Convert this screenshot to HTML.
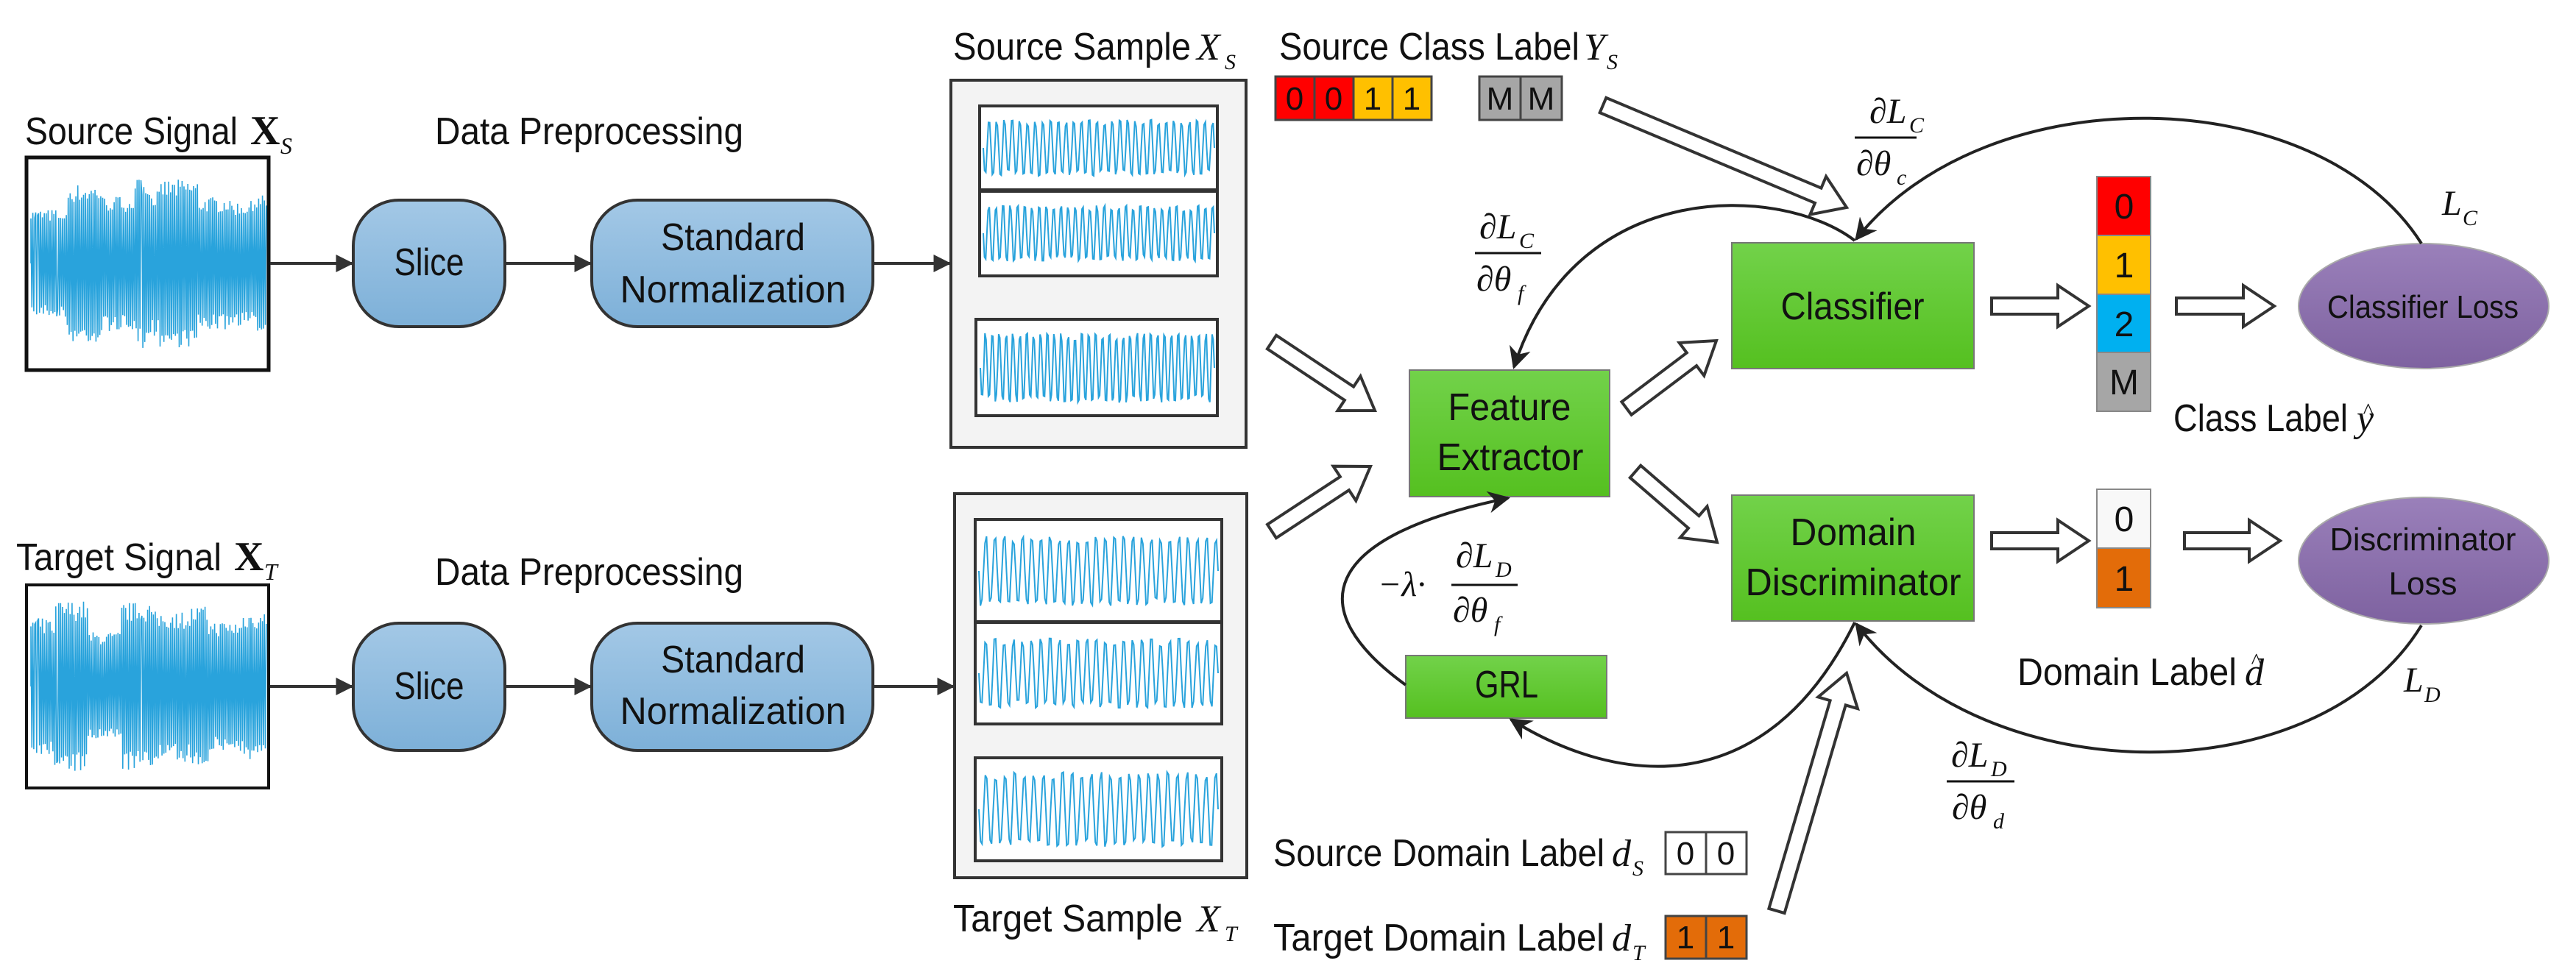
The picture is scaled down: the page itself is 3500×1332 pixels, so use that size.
<!DOCTYPE html>
<html><head><meta charset="utf-8"><style>
html,body{margin:0;padding:0;background:#fff;}
svg{display:block;}
text{font-family:"Liberation Sans",sans-serif;fill:#111;}
.m, .m text, text.m{font-family:"Liberation Serif",serif;font-style:italic;}
</style></head><body>
<svg id="s" width="3500" height="1332" viewBox="0 0 3500 1332" xmlns="http://www.w3.org/2000/svg">
<defs>
<linearGradient id="gb" x1="0" y1="0" x2="0" y2="1"><stop offset="0" stop-color="#a3c8e6"/><stop offset="1" stop-color="#7db0d8"/></linearGradient>
<linearGradient id="gg" x1="0" y1="0" x2="0" y2="1"><stop offset="0" stop-color="#72d24a"/><stop offset="1" stop-color="#55c020"/></linearGradient>
<linearGradient id="gp" x1="0" y1="0" x2="0" y2="1"><stop offset="0" stop-color="#9a80ba"/><stop offset="1" stop-color="#7e62a0"/></linearGradient>
<marker id="ah" viewBox="0 0 10 10" refX="9" refY="5" markerWidth="6" markerHeight="6" markerUnits="strokeWidth" orient="auto"><path d="M0,0 L10,5 L0,10 z" fill="#333"/></marker>
<marker id="ak" viewBox="0 0 10 10" refX="9" refY="5" markerWidth="30" markerHeight="30" markerUnits="userSpaceOnUse" orient="auto"><path d="M0,0 L10,5 L0,10 L3,5 z" fill="#222"/></marker>
</defs>
<g id="waves"></g>

<rect x="36" y="214" width="329" height="289" fill="none" stroke="#111" stroke-width="5"/>
<rect x="36" y="795" width="329" height="276" fill="none" stroke="#111" stroke-width="4"/>
<text x="34" y="196" font-size="52" textLength="289" lengthAdjust="spacingAndGlyphs">Source Signal</text>
<text x="340" y="196" font-size="56" font-family="Liberation Serif" font-weight="bold" style="font-family:'Liberation Serif',serif">X</text>
<text x="381" y="209" font-size="32" class="m">S</text>
<text x="22" y="775" font-size="52" textLength="279" lengthAdjust="spacingAndGlyphs">Target Signal</text>
<text x="318" y="775" font-size="56" font-weight="bold" style="font-family:'Liberation Serif',serif">X</text>
<text x="359" y="788" font-size="32" class="m">T</text>

<text x="591" y="196" font-size="52" textLength="419" lengthAdjust="spacingAndGlyphs">Data Preprocessing</text>
<text x="591" y="795" font-size="52" textLength="419" lengthAdjust="spacingAndGlyphs">Data Preprocessing</text>

<rect x="480" y="272" width="206" height="172" rx="62" fill="url(#gb)" stroke="#333" stroke-width="4"/>
<rect x="804" y="272" width="382" height="172" rx="62" fill="url(#gb)" stroke="#333" stroke-width="4"/>
<rect x="480" y="847" width="206" height="173" rx="62" fill="url(#gb)" stroke="#333" stroke-width="4"/>
<rect x="804" y="847" width="382" height="173" rx="62" fill="url(#gb)" stroke="#333" stroke-width="4"/>
<text x="583" y="374" font-size="52" text-anchor="middle" textLength="95" lengthAdjust="spacingAndGlyphs">Slice</text>
<text x="996" y="340" font-size="52" text-anchor="middle" textLength="196" lengthAdjust="spacingAndGlyphs">Standard</text>
<text x="996" y="411" font-size="52" text-anchor="middle" textLength="307" lengthAdjust="spacingAndGlyphs">Normalization</text>
<text x="583" y="950" font-size="52" text-anchor="middle" textLength="95" lengthAdjust="spacingAndGlyphs">Slice</text>
<text x="996" y="914" font-size="52" text-anchor="middle" textLength="196" lengthAdjust="spacingAndGlyphs">Standard</text>
<text x="996" y="984" font-size="52" text-anchor="middle" textLength="307" lengthAdjust="spacingAndGlyphs">Normalization</text>

<g stroke="#333" stroke-width="4" marker-end="url(#ah)">
<line x1="367" y1="358" x2="478" y2="358"/>
<line x1="686" y1="358" x2="802" y2="358"/>
<line x1="1186" y1="358" x2="1290" y2="358"/>
<line x1="367" y1="933" x2="478" y2="933"/>
<line x1="686" y1="933" x2="802" y2="933"/>
<line x1="1186" y1="933" x2="1295" y2="933"/>
</g>

<rect x="1292" y="109" width="401" height="499" fill="#f3f3f3" stroke="#333" stroke-width="4"/>
<rect x="1297" y="671" width="397" height="522" fill="#f3f3f3" stroke="#333" stroke-width="4"/>
<g fill="#fff" stroke="#333" stroke-width="4">
<rect x="1331" y="144" width="323" height="114"/>
<rect x="1331" y="260" width="323" height="115"/>
<rect x="1326" y="434" width="328" height="131"/>
<rect x="1325" y="706" width="335" height="139"/>
<rect x="1325" y="846" width="335" height="138"/>
<rect x="1325" y="1030" width="335" height="140"/>
</g>
<g id="waves2"></g>
<text x="1295" y="81" font-size="52" textLength="323" lengthAdjust="spacingAndGlyphs">Source Sample</text>
<text x="1626" y="81" font-size="52" class="m">X</text><text x="1664" y="94" font-size="30" class="m">S</text>
<text x="1295" y="1266" font-size="52" textLength="312" lengthAdjust="spacingAndGlyphs">Target Sample</text>
<text x="1626" y="1266" font-size="52" class="m">X</text><text x="1664" y="1279" font-size="30" class="m">T</text>

<text x="1738" y="81" font-size="52" textLength="408" lengthAdjust="spacingAndGlyphs">Source Class Label</text>
<text x="2152" y="81" font-size="52" class="m">Y</text><text x="2183" y="94" font-size="30" class="m">S</text>
<g stroke="#444" stroke-width="3">
<rect x="1733" y="104" width="53" height="59" fill="#ff0000"/>
<rect x="1786" y="104" width="53" height="59" fill="#ff0000"/>
<rect x="1839" y="104" width="53" height="59" fill="#ffc000"/>
<rect x="1892" y="104" width="53" height="59" fill="#ffc000"/>
<rect x="2010" y="104" width="56" height="59" fill="#a6a6a6"/>
<rect x="2066" y="104" width="56" height="59" fill="#a6a6a6"/>
</g>
<g font-size="44" text-anchor="middle">
<text x="1759" y="149">0</text><text x="1812" y="149">0</text><text x="1865" y="149">1</text><text x="1918" y="149">1</text>
<text x="2038" y="149">M</text><text x="2094" y="149">M</text>
</g>

<g stroke="#777" stroke-width="2" fill="url(#gg)">
<rect x="2353" y="330" width="329" height="171"/>
<rect x="1915" y="503" width="272" height="172"/>
<rect x="2353" y="673" width="329" height="171"/>
<rect x="1910" y="891" width="273" height="85"/>
</g>
<g font-size="52" text-anchor="middle">
<text x="2517" y="434" textLength="195" lengthAdjust="spacingAndGlyphs">Classifier</text>
<text x="2051" y="571" textLength="167" lengthAdjust="spacingAndGlyphs">Feature</text>
<text x="2052" y="639" textLength="199" lengthAdjust="spacingAndGlyphs">Extractor</text>
<text x="2518" y="741" textLength="171" lengthAdjust="spacingAndGlyphs">Domain</text>
<text x="2518" y="809" textLength="293" lengthAdjust="spacingAndGlyphs">Discriminator</text>
<text x="2047" y="948" textLength="86" lengthAdjust="spacingAndGlyphs">GRL</text>
</g>

<g stroke="#888" stroke-width="2">
<rect x="2849" y="240" width="73" height="80" fill="#ff0000"/>
<rect x="2849" y="320" width="73" height="80" fill="#ffc000"/>
<rect x="2849" y="400" width="73" height="79" fill="#00b0f0"/>
<rect x="2849" y="479" width="73" height="80" fill="#a6a6a6"/>
<rect x="2849" y="665" width="73" height="80" fill="#f8f8f8"/>
<rect x="2849" y="745" width="73" height="81" fill="#e36c09"/>
</g>
<g font-size="48" text-anchor="middle">
<text x="2886" y="297">0</text><text x="2886" y="377">1</text><text x="2886" y="457">2</text><text x="2886" y="536">M</text>
<text x="2886" y="722">0</text><text x="2886" y="803">1</text>
</g>
<text x="2953" y="586" font-size="52" textLength="237" lengthAdjust="spacingAndGlyphs">Class Label</text>
<text x="3202" y="586" font-size="52" class="m">y</text><text x="3210" y="568" font-size="30" class="m">^</text>
<text x="2741" y="931" font-size="52" textLength="298" lengthAdjust="spacingAndGlyphs">Domain Label</text>
<text x="3050" y="931" font-size="52" class="m">d</text><text x="3058" y="908" font-size="30" class="m">^</text>

<ellipse cx="3293" cy="416" rx="170" ry="85" fill="url(#gp)" stroke="#aaa" stroke-width="2"/>
<ellipse cx="3293" cy="762" rx="170" ry="86" fill="url(#gp)" stroke="#aaa" stroke-width="2"/>
<text x="3292" y="432" font-size="44" text-anchor="middle" textLength="260" lengthAdjust="spacingAndGlyphs">Classifier Loss</text>
<text x="3292" y="748" font-size="44" text-anchor="middle" textLength="253" lengthAdjust="spacingAndGlyphs">Discriminator</text>
<text x="3292" y="808" font-size="44" text-anchor="middle">Loss</text>

<g fill="none" stroke="#222" stroke-width="4" marker-end="url(#ak)">
<path d="M3290 331 C3150 110, 2700 100, 2522 325"/>
<path d="M2520 327 C2420 250, 2140 240, 2057 499"/>
<path d="M3290 850 C3150 1080, 2700 1080, 2522 848"/>
<path d="M2520 846 C2400 1090, 2200 1070, 2053 978"/>
<path d="M1910 931 C1770 830, 1790 730, 2049 677"/>
</g>
<g class="m" font-size="48">
<text x="2540" y="167">∂L</text><text x="2594" y="180" font-size="30">C</text>
<line x1="2520" y1="187" x2="2604" y2="187" stroke="#111" stroke-width="3"/>
<text x="2522" y="238">∂θ</text><text x="2577" y="251" font-size="30">c</text>
<text x="3318" y="292">L</text><text x="3346" y="306" font-size="30">C</text>

<text x="2010" y="324">∂L</text><text x="2064" y="337" font-size="30">C</text>
<line x1="2004" y1="344" x2="2094" y2="344" stroke="#111" stroke-width="3"/>
<text x="2006" y="395">∂θ</text><text x="2062" y="408" font-size="30">f</text>

<text x="1872" y="810">−λ·</text>
<text x="1978" y="771">∂L</text><text x="2032" y="784" font-size="30">D</text>
<line x1="1972" y1="795" x2="2062" y2="795" stroke="#111" stroke-width="3"/>
<text x="1974" y="845">∂θ</text><text x="2030" y="858" font-size="30">f</text>

<text x="2651" y="1042">∂L</text><text x="2705" y="1055" font-size="30">D</text>
<line x1="2645" y1="1062" x2="2737" y2="1062" stroke="#111" stroke-width="3"/>
<text x="2652" y="1113">∂θ</text><text x="2708" y="1126" font-size="30">d</text>
<text x="3266" y="940">L</text><text x="3294" y="954" font-size="30">D</text>
</g>

<text x="1730" y="1177" font-size="52" textLength="450" lengthAdjust="spacingAndGlyphs">Source Domain Label</text>
<text x="2190" y="1177" font-size="52" class="m">d</text><text x="2218" y="1190" font-size="30" class="m">S</text>
<text x="1730" y="1292" font-size="52" textLength="450" lengthAdjust="spacingAndGlyphs">Target Domain Label</text>
<text x="2190" y="1292" font-size="52" class="m">d</text><text x="2218" y="1305" font-size="30" class="m">T</text>
<g stroke="#444" stroke-width="3">
<rect x="2263" y="1131" width="55" height="57" fill="#fff"/>
<rect x="2318" y="1131" width="55" height="57" fill="#fff"/>
<rect x="2263" y="1245" width="55" height="58" fill="#e36c09"/>
<rect x="2318" y="1245" width="55" height="58" fill="#e36c09"/>
</g>
<g font-size="44" text-anchor="middle">
<text x="2290" y="1175">0</text><text x="2345" y="1175">0</text>
<text x="2290" y="1289">1</text><text x="2345" y="1289">1</text>
</g>

<g id="hol" fill="#fff" stroke="#333" stroke-width="4" stroke-linejoin="miter"></g>
</svg>
<script>
(function(){
var NS="http://www.w3.org/2000/svg";
var seed=7;function rnd(){seed=(seed*16807)%2147483647;return seed/2147483647;}
function path(d,col,w,g){var p=document.createElementNS(NS,"path");p.setAttribute("d",d);p.setAttribute("fill","none");p.setAttribute("stroke",col);p.setAttribute("stroke-width",w);document.getElementById(g).appendChild(p);}
function dense(x,y,w,cy,g){var d="M"+x+" "+cy;var amp=100;var n=0;
 for(var i=0;i<w;i+=1.3){if(n<=0){amp=70+rnd()*45;n=10+rnd()*30;}n--;
  var a=amp*(0.8+rnd()*0.25);d+=" L"+(x+i).toFixed(1)+" "+(cy+(i%2.6<1.3?-a:a)).toFixed(1);}
 path(d,"#29a3dc",1.6,g);}
dense(42,200,320,358,"waves");
dense(42,200,320,933,"waves");
function sine(x,w,cy,amp,cyc){var d="";var N=cyc*6;
 for(var i=0;i<=N;i++){var t=i/N;var a=amp*(0.8+rnd()*0.25);var v=Math.sin(t*cyc*2*Math.PI)*a;
 d+=(i?" L":"M")+(x+t*w).toFixed(1)+" "+(cy+v).toFixed(1);} path(d,"#29a3dc",2,"waves2");}
sine(1336,314,201,42,30);sine(1336,314,317,42,32);sine(1332,318,500,52,34);
sine(1330,325,776,52,26);sine(1330,325,915,52,26);sine(1330,325,1100,56,25);
function hol(x1,y1,x2,y2){var dx=x2-x1,dy=y2-y1,L=Math.hypot(dx,dy),ux=dx/L,uy=dy/L,px=-uy,py=ux;
 var sw=11,hw=28,hl=42;var bx=x2-ux*hl,by=y2-uy*hl;
 var pts=[[x1+px*sw,y1+py*sw],[bx+px*sw,by+py*sw],[bx+px*hw,by+py*hw],[x2,y2],[bx-px*hw,by-py*hw],[bx-px*sw,by-py*sw],[x1-px*sw,y1-py*sw]];
 var p=document.createElementNS(NS,"polygon");p.setAttribute("points",pts.map(function(q){return q[0].toFixed(1)+","+q[1].toFixed(1)}).join(" "));
 document.getElementById("hol").appendChild(p);}
hol(2178,143,2509,282);
hol(1728,465,1868,558);
hol(1728,722,1862,634);
hol(2210,555,2332,463);
hol(2222,641,2333,737);
hol(2706,416,2838,416);
hol(2957,416,3090,416);
hol(2706,735,2838,735);
hol(2968,735,3098,735);
hol(2414,1238,2509,915);
})();
</script>
</body></html>
